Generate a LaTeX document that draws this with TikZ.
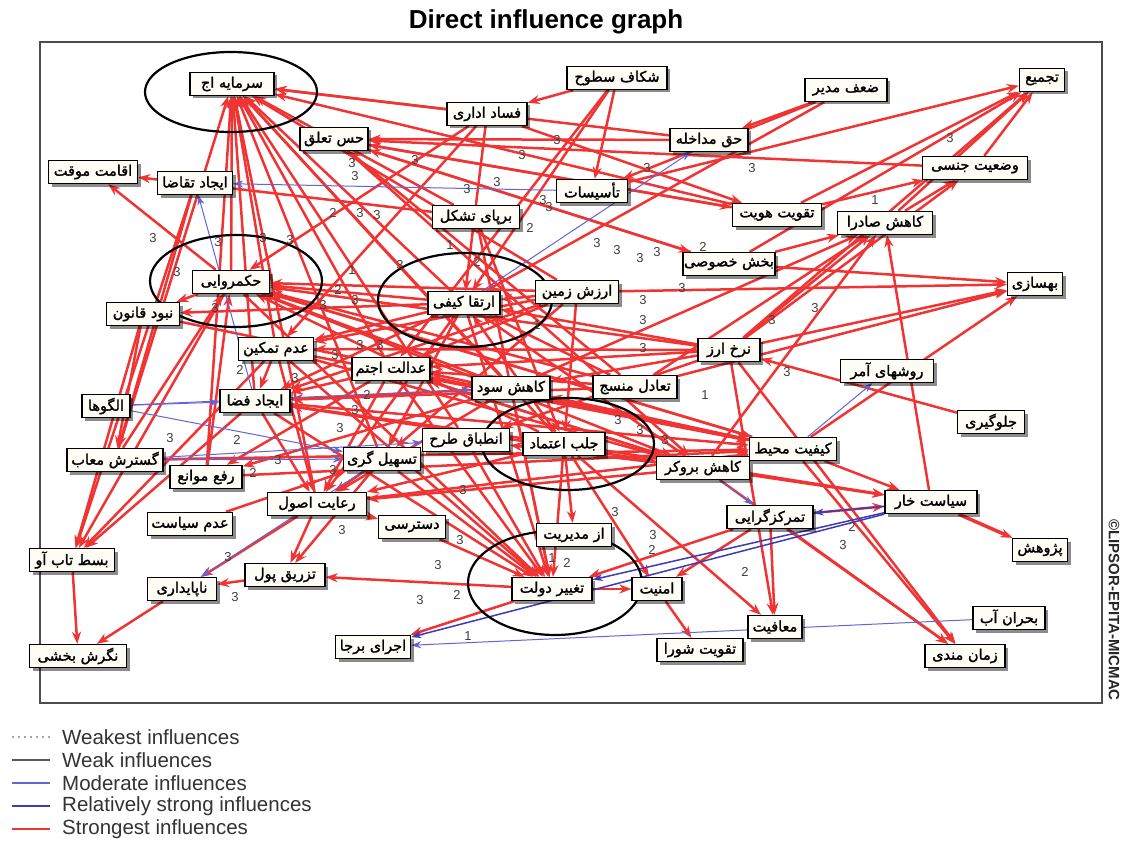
\documentclass[tikz,border=0pt]{standalone}
\usepackage{fontspec}
\setmainfont{Liberation Sans}
\newfontfamily\pfont[Script=Arabic,FakeBold=1.6]{DejaVu Sans}
\TeXXeTstate=1
\usetikzlibrary{arrows.meta,shadows}
\pgfdeclarelayer{bg}
\pgfdeclarelayer{edges}
\pgfdeclarelayer{ells}
\pgfsetlayers{bg,edges,ells,main}
\newcommand\pfa[1]{\beginR #1\endR}
\definecolor{sred}{RGB}{240,52,52}
\definecolor{mblue}{RGB}{100,100,210}
\definecolor{rblue}{RGB}{60,60,180}
\definecolor{boxbg}{RGB}{253,253,246}
\begin{document}
\begin{tikzpicture}[x=1pt,y=-1pt,
  box/.style={draw=black, line width=1.3pt, fill=boxbg, inner sep=1pt, minimum height=23pt,
    font=\pfont\fontsize{14.5}{16}\selectfont,
    drop shadow={shadow xshift=3pt,shadow yshift=-3pt,fill=black,opacity=0.45}},
  sr/.style={draw=sred, line width=2.5pt, -{Stealth[length=12pt,width=9pt]}},
  mb/.style={draw=mblue, line width=1pt, -{Stealth[length=10pt,width=7pt]}},
  rb/.style={draw=rblue, line width=1.5pt, -{Stealth[length=10pt,width=7pt]}},
  ell/.style={draw=black, line width=2.2pt},
  lab/.style={font=\fontsize{13}{13}\selectfont, text=black!75, inner sep=0pt},
  leg/.style={font=\fontsize{20.5}{22}\selectfont, text=black!80, anchor=west, inner sep=0pt}]
\useasboundingbox (0,0) rectangle (1124,848);
\begin{pgfonlayer}{bg}
\fill[white] (0,0) rectangle (1124,848);
\end{pgfonlayer}

% title and frame
\node[font=\bfseries\fontsize{26}{28}\selectfont] (title) at (546,22) {Direct influence graph};
\draw[line width=1.6pt, draw=black!70] (40,42) rectangle (1102,703);
\node[font=\bfseries\fontsize{15}{16}\selectfont, rotate=-90, text=black!85] (copy) at (1114,610) {\textcopyright LIPSOR-EPITA-MICMAC};

% nodes
\node[box, minimum width=84pt] (sa) at (232,84) {\pfa{سرمایه اج}};
\node[box, minimum width=68pt] (hs) at (334,139) {\pfa{حس تعلق}};
\node[box, minimum width=89pt] (am) at (93,172) {\pfa{اقامت موقت}};
\node[box, minimum width=75pt] (it) at (195,183) {\pfa{ایجاد تقاضا}};
\node[box, minimum width=80pt] (fa) at (487,114) {\pfa{فساد اداری}};
\node[box, minimum width=100pt] (sh) at (617,78) {\pfa{شکاف سطوح}};
\node[box, minimum width=78pt] (hm) at (709,140) {\pfa{حق مداخله}};
\node[box, minimum width=71pt] (ta) at (592,191) {\pfa{تأسیسات}};
\node[box, minimum width=87pt] (bt) at (476,217) {\pfa{برپای تشکل}};
\node[box, minimum width=82pt] (zm) at (846,90) {\pfa{ضعف مدیر}};
\node[box, minimum width=45pt] (tj) at (1042,80) {\pfa{تجمیع}};
\node[box, minimum width=105pt] (vj) at (975,168) {\pfa{وضعیت جنسی}};
\node[box, minimum width=89pt] (th) at (777,215) {\pfa{تقویت هویت}};
\node[box, minimum width=95pt] (ks) at (885,223) {\pfa{کاهش صادرا}};
\node[box, minimum width=92pt] (bk) at (729,264) {\pfa{بخش خصوصی}};
\node[box, minimum width=55pt] (bh) at (1035,284) {\pfa{بهسازی}};
\node[box, minimum width=83pt] (az) at (577,292) {\pfa{ارزش زمین}};
\node[box, minimum width=72pt] (ak) at (464,303) {\pfa{ارتقا کیفی}};
\node[box, minimum width=77pt] (hk) at (231,282) {\pfa{حکمروایی}};
\node[box, minimum width=73pt] (nq) at (143,314) {\pfa{نبود قانون}};
\node[box, minimum width=75pt] (tmk) at (276,349) {\pfa{عدم تمکین}};
\node[box, minimum width=78pt] (ed) at (391,369) {\pfa{عدالت اجتم}};
\node[box, minimum width=48pt] (al) at (106,406) {\pfa{الگوها}};
\node[box, minimum width=70pt] (ef) at (255,401) {\pfa{ایجاد فضا}};
\node[box, minimum width=96pt] (gm) at (115,460) {\pfa{گسترش معاب}};
\node[box, minimum width=72pt] (rm) at (206,477) {\pfa{رفع موانع}};
\node[box, minimum width=77pt] (tg) at (382,459) {\pfa{تسهیل گری}};
\node[box, minimum width=78pt] (kso) at (511,388) {\pfa{کاهش سود}};
\node[box, minimum width=84pt] (tmn) at (635,387) {\pfa{تعادل منسج}};
\node[box, minimum width=62pt] (nr) at (729,350) {\pfa{نرخ ارز}};
\node[box, minimum width=93pt] (rva) at (887,371) {\pfa{روشهای آمر}};
\node[box, minimum width=67pt] (jl) at (991,422) {\pfa{جلوگیری}};
\node[box, minimum width=87pt] (ie) at (466,440) {\pfa{انطباق طرح}};
\node[box, minimum width=82pt] (ja) at (564,444) {\pfa{جلب اعتماد}};
\node[box, minimum width=87pt] (kmh) at (793,449) {\pfa{کیفیت محیط}};
\node[box, minimum width=93pt] (kb) at (703,468) {\pfa{کاهش بروکر}};
\node[box, minimum width=99pt] (re) at (317,504) {\pfa{رعایت اصول}};
\node[box, minimum width=85pt] (ads) at (190,524) {\pfa{عدم سیاست}};
\node[box, minimum width=85pt] (bs) at (72,560) {\pfa{بسط تاب آو}};
\node[box, minimum width=69pt] (np) at (182,589) {\pfa{ناپایداری}};
\node[box, minimum width=80pt] (tp) at (285,575) {\pfa{تزریق پول}};
\node[box, minimum width=97pt] (nb) at (78,656) {\pfa{نگرش بخشی}};
\node[box, minimum width=75pt] (eb) at (373,647) {\pfa{اجرای برجا}};
\node[box, minimum width=67pt] (ds) at (412,527) {\pfa{دسترسی}};
\node[box, minimum width=75pt] (mo) at (574,535) {\pfa{از مدیریت}};
\node[box, minimum width=80pt] (td) at (552,589) {\pfa{تغییر دولت}};
\node[box, minimum width=50pt] (amn) at (657,589) {\pfa{امنیت}};
\node[box, minimum width=86pt] (ts) at (700,650) {\pfa{تقویت شورا}};
\node[box, minimum width=86pt] (tk) at (770,517) {\pfa{تمرکزگرایی}};
\node[box, minimum width=92pt] (sk) at (931,502) {\pfa{سیاست خار}};
\node[box, minimum width=55pt] (pz) at (1040,550) {\pfa{پژوهش}};
\node[box, minimum width=72pt] (ba) at (1009,618) {\pfa{بحران آب}};
\node[box, minimum width=80pt] (zmd) at (965,656) {\pfa{زمان مندی}};
\node[box, minimum width=54pt] (mf) at (775,627) {\pfa{معافیت}};

% edges
\begin{pgfonlayer}{edges}
\foreach \a/\b in {hk/sa, ef/sa, tmk/sa, ak/sa, ed/sa, kso/sa, ja/sa, ie/sa, tg/sa, re/sa, fa/sa, hm/sa, th/sa, bt/sa, az/sa, gm/sa, rm/sa,
  th/hs, bk/hs, hm/hs, vj/hs, tmn/hs, fa/th, hs/th, hk/am, bt/am, hs/bk, hs/kb,
  nr/tj, bk/tj, ks/tj, vj/tj, th/tj, ta/tj, ks/vj, th/vj, nr/vj,
  nr/ks, tmn/ks, kb/ks, kso/ks, sk/ks, bk/ks, bk/bh, az/bh, nr/bh, kmh/bh, tmn/bh,
  zm/hm, zm/ta, zm/ak, sh/ta, sh/fa, sh/ak, sh/ed,
  fa/ak, az/ak, tmn/ak, nr/ak, kb/ak, ja/ak, az/ed, nr/ed, kb/ed, kmh/ed, tmn/ed,
  fa/hk, az/hk, ja/hk, kso/hk, ak/hk, tmn/hk, gm/hk, rm/hk, kmh/hk, nr/hk,
  hk/nq, ak/nq, fa/tmk, ak/tmk, az/tmk, nr/tmk, ak/ef, ed/ef, kso/ef, tmk/ef, ja/ef, tmn/ef, az/ef,
  hk/bs, nq/bs, tmk/bs, ef/bs, it/bs, it/gm, nq/gm, ed/rm, kso/rm, ak/tg, az/tg, ads/tg,
  nr/kso, kmh/kso, nr/ie, kb/ie, gm/kmh, rm/kmh, tmk/kmh, hk/kmh, ef/kmh, nq/kmh, re/kmh,
  ef/kb, ed/kb, tmk/kb, hk/kb, bt/ja, az/ja,
  ak/re, ed/re, kso/re, ja/re, kb/re, tg/re, ef/re, tmk/re, re/ds, re/tp, tg/tp, td/tp, tp/np, re/np, np/nb, bs/nb,
  td/eb, ja/mo, ak/td, ed/td, tmk/td, ef/td, hk/td, ie/td, ja/td, bt/td, kso/td, tg/td, ds/td, tk/td, tk/amn,
  td/amn, ja/amn, amn/ts, tk/mf, ja/mf, nr/mf, kmh/zmd, kb/zmd, tk/zmd, nr/zmd,
  jl/nr, kmh/sk, kb/sk, tk/sk, ja/sk}
  \draw[sr] (\a) -- (\b);
\draw[sr, line width=3.5pt] (sk) -- (pz);
\foreach \a/\b in {ta/it, ef/it, ak/hm, al/ef, al/kso, gm/tg, gm/ie, kmh/rva, ba/eb, tg/np, al/tg, kb/tk}
  \draw[mb] (\a) -- (\b);
\foreach \a/\b in {sk/tk, sk/td, sk/eb}
  \draw[rb] (\a) -- (\b);
\end{pgfonlayer}

% ellipses
\begin{pgfonlayer}{ells}
\draw[ell] (231,92) ellipse [x radius=86pt, y radius=40pt];
\draw[ell] (236,281) ellipse [x radius=86pt, y radius=46pt];
\draw[ell] (465,300) ellipse [x radius=87pt, y radius=47pt];
\draw[ell] (568,444) ellipse [x radius=86pt, y radius=46pt];
\draw[ell] (555,583) ellipse [x radius=87pt, y radius=52pt];
\end{pgfonlayer}

% edge labels
\foreach \x/\y/\t [count=\i] in {352/163/3, 355/176/3, 333/213/2, 360/213/3, 377/215/3, 153/238/3, 218/242/3, 263/238/3, 290/240/3, 177/272/3, 352/270/1, 400/265/3,
  557/140/3, 415/160/3, 522/155/3, 497/182/3, 467/189/3, 647/168/3, 752/168/3, 543/200/3, 549/207/3, 530/228/2, 450/245/1, 477/262/2, 597/243/3, 617/250/3, 640/258/3, 657/252/3, 703/247/2,
  950/138/3, 875/200/1, 215/308/3, 338/290/2, 355/300/3, 323/305/3, 335/355/3, 360/345/3, 380/345/3, 240/370/2, 295/378/3, 367/395/2, 355/410/3, 340/428/3, 170/438/3, 237/440/2, 278/460/3, 253/473/2, 333/470/3,
  643/300/3, 643/320/3, 643/348/3, 682/288/3, 537/325/1, 618/420/3, 640/430/3, 705/395/1, 665/440/3, 815/308/3, 772/320/3, 787/372/3,
  228/557/3, 235/597/3, 342/530/3, 463/490/3, 460/540/3, 438/565/3, 420/600/3, 457/595/2, 552/558/1, 567/563/2, 615/512/3, 653/535/3, 652/550/2, 745/572/2, 468/636/1, 852/527/2, 843/545/3}
  \node[lab] (l\i) at (\x,\y) {\t};

% legend
\draw[black!35, line width=1.2pt, dash pattern=on 2pt off 4pt] (12,737) coordinate (w1) -- (50,737) coordinate (w2);
\node[leg] (lg1) at (62,737) {Weakest influences};
\draw[black!65, line width=1.4pt] (12,760) coordinate (w3) -- (50,760) coordinate (w4);
\node[leg] (lg2) at (62,760) {Weak influences};
\draw[mblue, line width=1.6pt] (12,783) coordinate (w5) -- (50,783) coordinate (w6);
\node[leg] (lg3) at (62,783) {Moderate influences};
\draw[rblue, line width=2.4pt] (12,806) coordinate (w7) -- (50,806) coordinate (w8);
\node[leg] (lg4) at (62,806) {Relatively strong influences};
\draw[sred, line width=2.4pt] (12,829) coordinate (w9) -- (50,829) coordinate (w10);
\node[leg] (lg5) at (62,829) {Strongest influences};
\end{tikzpicture}
\end{document}
